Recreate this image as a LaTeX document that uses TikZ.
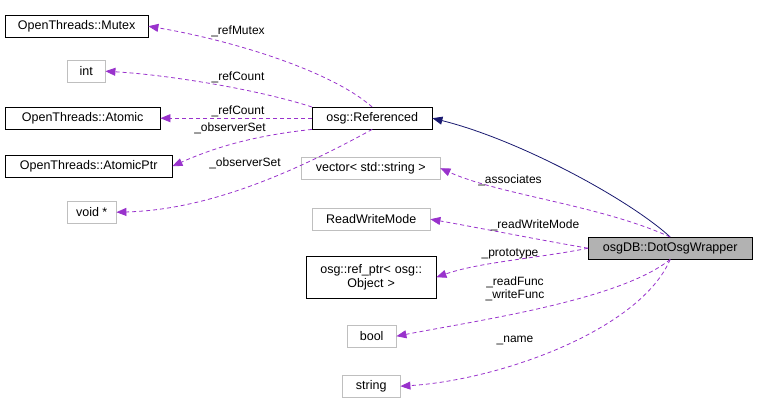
\documentclass[tikz,border=0pt]{standalone}
\usepackage{fontspec}
\setmainfont{Liberation Sans}
\usetikzlibrary{arrows.meta}
\definecolor{orch}{RGB}{153,50,204}
\definecolor{nav}{RGB}{25,25,112}
\begin{document}
\begin{tikzpicture}[x=1pt,y=-1pt,
  box/.style={draw=black,fill=white,inner sep=2pt,font=\fontsize{12.5}{14}\selectfont,anchor=north west,align=center},
  gbox/.style={box,draw=gray!50},
  dep/.style={draw=orch,line width=0.8pt,dash pattern=on 4pt off 3pt,-{Stealth[length=10pt,width=8pt,inset=0pt]}},
  inh/.style={draw=nav,line width=0.8pt,-{Stealth[length=10pt,width=8pt,inset=0pt]}},
  lab/.style={font=\fontsize{12}{13}\selectfont,inner sep=1pt}]
\useasboundingbox (0,0) rectangle (759,408);
\node[box,minimum width=143,minimum height=22] (mutex) at (5,15) {OpenThreads::Mutex};
\node[gbox,minimum width=38,minimum height=22] (int) at (67,60) {int};
\node[box,minimum width=155,minimum height=22] (atomic) at (5,107) {OpenThreads::Atomic};
\node[box,minimum width=167,minimum height=22] (aptr) at (5,155) {OpenThreads::AtomicPtr};
\node[gbox,minimum width=49,minimum height=22] (void) at (67,201) {void *};
\node[box,minimum width=120,minimum height=22] (ref) at (312,107) {osg::Referenced};
\node[gbox,minimum width=139,minimum height=22] (vec) at (301,157) {vector< std::string >};
\node[gbox,minimum width=118,minimum height=22] (rwm) at (312,208) {ReadWriteMode};
\node[box,minimum width=130,minimum height=42,text width=124] (rp) at (306,256) {osg::ref\_ptr< osg::\\Object >};
\node[gbox,minimum width=49,minimum height=22] (bool) at (347,325) {bool};
\node[gbox,minimum width=58,minimum height=22] (str) at (342,375) {string};
\node[box,fill=gray!60,minimum width=164,minimum height=22] (dow) at (588,237) {osgDB::DotOsgWrapper};

\draw[inh] (dow.north) .. controls (630,200) and (520,140) .. (ref.east);
\draw[dep] (ref.north) .. controls (330,70) and (230,40) .. (mutex.east);
\draw[dep] (ref.north west) .. controls (260,90) and (170,75) .. (int.east);
\draw[dep] (ref.west) -- (atomic.east);
\draw[dep] (ref.south west) .. controls (260,135) and (220,145) .. (aptr.east);
\draw[dep] (ref.south) .. controls (280,180) and (200,210) .. (void.east);
\draw[dep] (dow.north) .. controls (600,205) and (500,195) .. (vec.east);
\draw[dep] (dow.west) .. controls (540,240) and (480,228) .. (rwm.east);
\draw[dep] (dow.west) .. controls (540,258) and (480,262) .. (rp.east);
\draw[dep] (dow.south) .. controls (620,300) and (480,320) .. (bool.east);
\draw[dep] (dow.south) .. controls (640,330) and (500,380) .. (str.east);

\node[lab] (l1) at (238,31) {\_refMutex};
\node[lab] (l2) at (238,77) {\_refCount};
\node[lab] (l3) at (238,111) {\_refCount};
\node[lab] (l4) at (230,128) {\_observerSet};
\node[lab] (l5) at (245,163) {\_observerSet};
\node[lab] (l6) at (510,180) {\_associates};
\node[lab] (l7) at (535,225) {\_readWriteMode};
\node[lab] (l8) at (510,254) {\_prototype};
\node[lab,align=center] (l9) at (515,289) {\_readFunc\\\_writeFunc};
\node[lab] (l10) at (515,340) {\_name};
\end{tikzpicture}
\end{document}
